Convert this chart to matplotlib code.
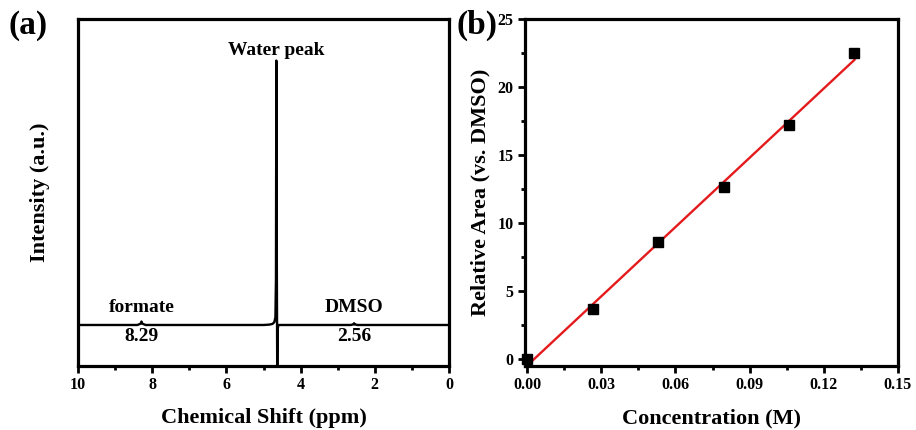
import numpy as np
import matplotlib
matplotlib.use("Agg")
import matplotlib.pyplot as plt
from matplotlib.ticker import MultipleLocator

plt.rcParams['font.family'] = ['Liberation Serif', 'DejaVu Serif']
plt.rcParams['font.weight'] = 'bold'
plt.rcParams['axes.labelweight'] = 'bold'

# (a) 1H NMR spectrum, key points along the trace (ppm, normalised intensity)
shift_ppm = [10.0, 8.40, 8.31, 8.29, 8.27, 8.18, 5.00, 4.85, 4.76, 4.71, 4.68,
             4.665, 4.655, 4.645, 4.63, 4.62, 4.60, 2.65, 2.57, 2.56, 2.55,
             2.47, 0.0]
intensity = [0.118, 0.118, 0.122, 0.128, 0.122, 0.118, 0.118, 0.119, 0.121,
             0.126, 0.14, 0.25, 0.88, 0.40, -0.05, 0.105, 0.118, 0.118,
             0.120, 0.123, 0.120, 0.118, 0.118]

# (b) calibration: formate concentration vs. relative area
conc = [0.0, 0.0265, 0.053, 0.0795, 0.106, 0.1325]
rel_area = [0.0, 3.65, 8.6, 12.65, 17.2, 22.5]

fig = plt.figure(figsize=(9.16, 4.3), dpi=100)
ax1 = fig.add_axes([0.0852, 0.149, 0.405, 0.807])
ax2 = fig.add_axes([0.573, 0.149, 0.407, 0.807])

for ax in (ax1, ax2):
    for sp in ax.spines.values():
        sp.set_linewidth(2.3)
    ax.tick_params(which='major', direction='out', length=5, width=2,
                   labelsize=11.5, pad=3)
    ax.tick_params(which='minor', direction='out', length=3, width=2)

# ---- panel (a)
ax1.plot(shift_ppm, intensity, color='black', lw=1.7)
ax1.set_xlim(10, 0)
ax1.set_ylim(0, 1)
ax1.set_xticks([10, 8, 6, 4, 2, 0])
ax1.xaxis.set_minor_locator(MultipleLocator(1))
ax1.set_yticks([])
ax1.set_xlabel('Chemical Shift (ppm)', fontsize=16, labelpad=11)
ax1.set_ylabel('Intensity (a.u.)', fontsize=16, labelpad=20)
ax1.text(8.29, 0.167, 'formate', ha='center', va='center', fontsize=14)
ax1.text(8.29, 0.084, '8.29', ha='center', va='center', fontsize=14)
ax1.text(2.56, 0.167, 'DMSO', ha='center', va='center', fontsize=14)
ax1.text(2.56, 0.084, '2.56', ha='center', va='center', fontsize=14)
ax1.text(4.66, 0.91, 'Water peak', ha='center', va='center', fontsize=14)

# ---- panel (b)
slope, icpt = np.polyfit(conc, rel_area, 1)
xfit = np.array([conc[0], conc[-1]])
ax2.plot(xfit, slope * xfit + icpt, color='#e41a1c', lw=1.7, zorder=2)
ax2.plot(conc, rel_area, 's', color='black', ms=7.5, zorder=3, clip_on=False)
ax2.set_xlim(-0.001, 0.15)
ax2.set_ylim(-0.5, 25)
ax2.set_xticks([0.0, 0.03, 0.06, 0.09, 0.12, 0.15])
ax2.set_xticklabels(['0.00', '0.03', '0.06', '0.09', '0.12', '0.15'])
ax2.xaxis.set_minor_locator(MultipleLocator(0.015))
ax2.set_yticks([0, 5, 10, 15, 20, 25])
ax2.yaxis.set_minor_locator(MultipleLocator(2.5))
ax2.set_xlabel('Concentration (M)', fontsize=16, labelpad=11)
ax2.set_ylabel('Relative Area (vs. DMSO)', fontsize=16, labelpad=5)

for ax in (ax1, ax2):
    for lbl in ax.get_xticklabels() + ax.get_yticklabels():
        lbl.set_fontweight('bold')

fig.text(0.009, 0.94, '(a)', fontsize=24, fontweight='bold', va='center')
fig.text(0.498, 0.94, '(b)', fontsize=24, fontweight='bold', va='center')

fig.savefig('out.png', dpi=100)
